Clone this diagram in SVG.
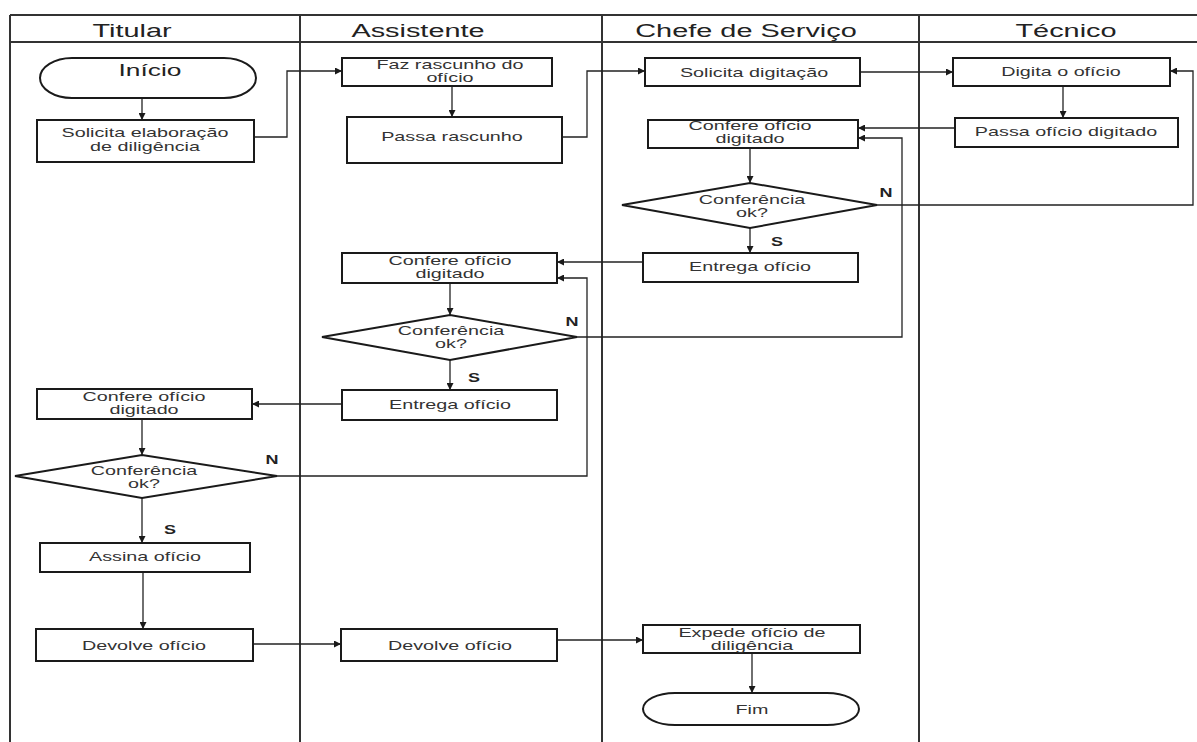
<svg xmlns="http://www.w3.org/2000/svg" width="1197" height="742" viewBox="0 0 1197 742">
  <defs>
    <marker id="arrow" markerWidth="7" markerHeight="7" refX="7" refY="3.5" orient="auto" markerUnits="userSpaceOnUse">
      <path d="M0,0 L7,3.5 L0,7 z" fill="#1a1a1a"/>
    </marker>
    <style>
      .lane { stroke:#333; stroke-width:2; fill:none; }
      .box { fill:#fff; stroke:#1a1a1a; stroke-width:2; }
      .edge { fill:none; stroke:#222; stroke-width:1.3; }
      .t { font-family:"Liberation Sans", Arial, sans-serif; font-size:13px; fill:#333; text-anchor:middle; }
      .h { font-size:19px; fill:#222; }
      .big { font-size:17px; fill:#222; }
      .lbl { font-weight:bold; font-size:12px; fill:#222; }
    </style>
  </defs>
  <rect width="1197" height="742" fill="#fff"/>

  <!-- swimlane frame -->
  <g id="lanes">
    <line class="lane" x1="10" y1="15" x2="1197" y2="15"/>
    <line class="lane" x1="10" y1="42" x2="1197" y2="42"/>
    <line class="lane" x1="10" y1="15" x2="10" y2="742"/>
    <line class="lane" x1="300" y1="15" x2="300" y2="742"/>
    <line class="lane" x1="602" y1="15" x2="602" y2="742"/>
    <line class="lane" x1="919" y1="15" x2="919" y2="742"/>
    <text class="t h" transform="translate(132 37) scale(1.52 1)">Titular</text>
    <text class="t h" transform="translate(418 37) scale(1.52 1)">Assistente</text>
    <text class="t h" transform="translate(746 37) scale(1.52 1)">Chefe de Serviço</text>
    <text class="t h" transform="translate(1066 37) scale(1.52 1)">Técnico</text>
  </g>

  <!-- connectors -->
  <g id="connectors" class="edge" marker-end="url(#arrow)">
    <path d="M142,98 V120"/>
    <path d="M254,137 H287 V71 H342"/>
    <path d="M452,86 V117"/>
    <path d="M562,137 H587 V71 H645"/>
    <path d="M860,72 H953"/>
    <path d="M1063,86 V118"/>
    <path d="M955,128 H858"/>
    <path d="M750,148 V183"/>
    <path d="M877,205 H1193 V71 H1170"/>
    <path d="M750,228 V253"/>
    <path d="M643,262 H557"/>
    <path d="M450,283 V315"/>
    <path d="M577,337 H902 V138 H858"/>
    <path d="M450,360 V390"/>
    <path d="M342,404 H252"/>
    <path d="M142,419 V455"/>
    <path d="M277,476 H587 V278 H557"/>
    <path d="M142,498 V543"/>
    <path d="M143,572 V629"/>
    <path d="M253,644 H341"/>
    <path d="M557,640 H643"/>
    <path d="M752,653 V693"/>
  </g>

  <!-- Titular -->
  <g id="inicio">
    <rect class="box" x="40" y="58" width="216" height="40" rx="32" ry="20"/>
    <text class="t big" transform="translate(150 76) scale(1.55 1)">Início</text>
  </g>
  <g id="solicita-elaboracao">
    <rect class="box" x="37" y="120" width="217" height="42"/>
    <text class="t" transform="translate(145 137) scale(1.52 1)">Solicita elaboração</text>
    <text class="t" transform="translate(145 151) scale(1.52 1)">de diligência</text>
  </g>
  <g id="confere-titular">
    <rect class="box" x="37" y="389" width="215" height="30"/>
    <text class="t" transform="translate(144 401) scale(1.52 1)">Confere ofício</text>
    <text class="t" transform="translate(144 414) scale(1.52 1)">digitado</text>
  </g>
  <g id="conferencia-titular">
    <polygon class="box" points="15,476 142,455 277,476 142,498"/>
    <text class="t" transform="translate(144 475) scale(1.52 1)">Conferência</text>
    <text class="t" transform="translate(144 488) scale(1.52 1)">ok?</text>
    <text class="t lbl" transform="translate(272 464) scale(1.5 1)">N</text>
    <text class="t lbl" transform="translate(170 534) scale(1.5 1)">S</text>
  </g>
  <g id="assina">
    <rect class="box" x="40" y="543" width="210" height="29"/>
    <text class="t" transform="translate(145 561) scale(1.52 1)">Assina ofício</text>
  </g>
  <g id="devolve-titular">
    <rect class="box" x="36" y="629" width="217" height="32"/>
    <text class="t" transform="translate(144 650) scale(1.52 1)">Devolve ofício</text>
  </g>

  <!-- Assistente -->
  <g id="faz-rascunho">
    <rect class="box" x="342" y="58" width="210" height="28"/>
    <text class="t" transform="translate(450 69) scale(1.52 1)">Faz rascunho do</text>
    <text class="t" transform="translate(450 82) scale(1.52 1)">ofício</text>
  </g>
  <g id="passa-rascunho">
    <rect class="box" x="347" y="117" width="215" height="46"/>
    <text class="t" transform="translate(452 141) scale(1.52 1)">Passa rascunho</text>
  </g>
  <g id="confere-assistente">
    <rect class="box" x="342" y="253" width="215" height="30"/>
    <text class="t" transform="translate(450 265) scale(1.52 1)">Confere ofício</text>
    <text class="t" transform="translate(450 278) scale(1.52 1)">digitado</text>
  </g>
  <g id="conferencia-assistente">
    <polygon class="box" points="322,337 450,315 577,337 450,360"/>
    <text class="t" transform="translate(451 335) scale(1.52 1)">Conferência</text>
    <text class="t" transform="translate(451 348) scale(1.52 1)">ok?</text>
    <text class="t lbl" transform="translate(572 326) scale(1.5 1)">N</text>
    <text class="t lbl" transform="translate(474 382) scale(1.5 1)">S</text>
  </g>
  <g id="entrega-assistente">
    <rect class="box" x="342" y="390" width="215" height="30"/>
    <text class="t" transform="translate(450 409) scale(1.52 1)">Entrega  ofício</text>
  </g>
  <g id="devolve-assistente">
    <rect class="box" x="341" y="629" width="216" height="32"/>
    <text class="t" transform="translate(450 650) scale(1.52 1)">Devolve ofício</text>
  </g>

  <!-- Chefe de Serviço -->
  <g id="solicita-digitacao">
    <rect class="box" x="645" y="58" width="215" height="28"/>
    <text class="t" transform="translate(754 77) scale(1.52 1)">Solicita digitação</text>
  </g>
  <g id="confere-chefe">
    <rect class="box" x="648" y="120" width="210" height="28"/>
    <text class="t" transform="translate(750 130) scale(1.52 1)">Confere ofício</text>
    <text class="t" transform="translate(750 143) scale(1.52 1)">digitado</text>
  </g>
  <g id="conferencia-chefe">
    <polygon class="box" points="622,205 750,183 877,205 750,228"/>
    <text class="t" transform="translate(752 204) scale(1.52 1)">Conferência</text>
    <text class="t" transform="translate(752 217) scale(1.52 1)">ok?</text>
    <text class="t lbl" transform="translate(886 197) scale(1.5 1)">N</text>
    <text class="t lbl" transform="translate(777 246) scale(1.5 1)">S</text>
  </g>
  <g id="entrega-chefe">
    <rect class="box" x="643" y="253" width="215" height="29"/>
    <text class="t" transform="translate(750 271) scale(1.52 1)">Entrega  ofício</text>
  </g>
  <g id="expede">
    <rect class="box" x="643" y="625" width="217" height="28"/>
    <text class="t" transform="translate(752 637) scale(1.52 1)">Expede ofício de</text>
    <text class="t" transform="translate(752 650) scale(1.52 1)">diligência</text>
  </g>
  <g id="fim">
    <rect class="box" x="643" y="693" width="216" height="32" rx="32" ry="16"/>
    <text class="t" transform="translate(752 714) scale(1.52 1)">Fim</text>
  </g>

  <!-- Técnico -->
  <g id="digita">
    <rect class="box" x="953" y="58" width="217" height="28"/>
    <text class="t" transform="translate(1061 76) scale(1.52 1)">Digita o ofício</text>
  </g>
  <g id="passa-digitado">
    <rect class="box" x="955" y="118" width="223" height="29"/>
    <text class="t" transform="translate(1066 136) scale(1.52 1)">Passa ofício digitado</text>
  </g>
</svg>
